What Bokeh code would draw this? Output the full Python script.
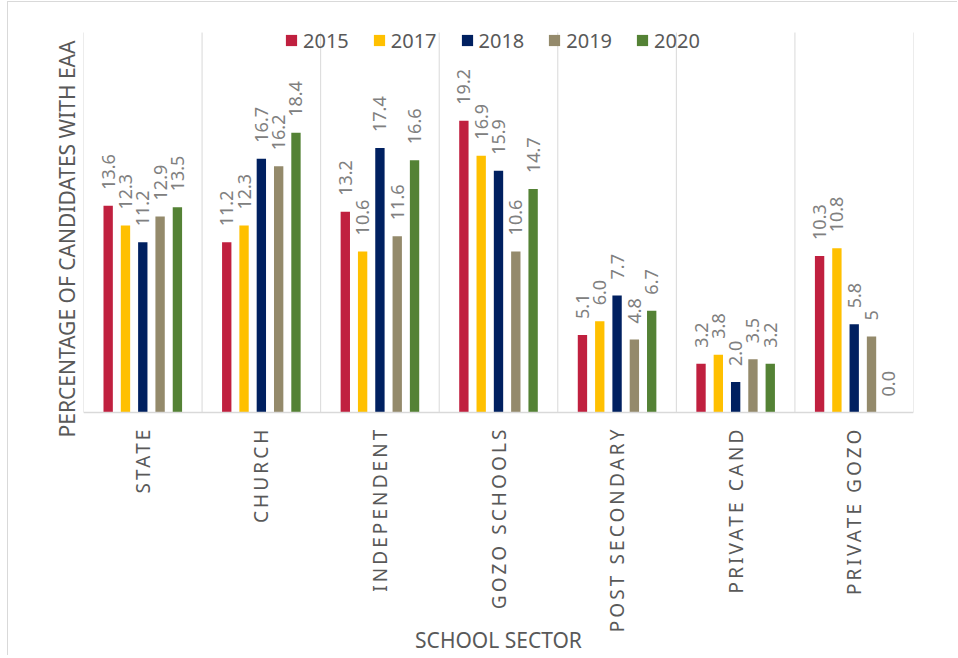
import math
from bokeh.plotting import figure
from bokeh.models import (FactorRange, Range1d, Legend, LegendItem, Span, ColumnDataSource,
                          CategoricalAxis, FixedTicker)
from bokeh.layouts import column
from bokeh.embed import file_html
from bokeh.resources import INLINE
from bokeh.core.properties import value

categories = ["STATE", "CHURCH", "INDEPENDENT", "GOZO SCHOOLS",
              "POST SECONDARY", "PRIVATE CAND", "PRIVATE GOZO"]
years = ["2015", "2017", "2018", "2019", "2020"]

v2015 = [13.6, 11.2, 13.2, 19.2, 5.1, 3.2, 10.3]
v2017 = [12.3, 12.3, 10.6, 16.9, 6.0, 3.8, 10.8]
v2018 = [11.2, 16.7, 17.4, 15.9, 7.7, 2.0, 5.8]
v2019 = [12.9, 16.2, 11.6, 10.6, 4.8, 3.5, 5.0]
v2020 = [13.5, 18.4, 16.6, 14.7, 6.7, 3.2, 0.0]

t2015 = ["13.6", "11.2", "13.2", "19.2", "5.1", "3.2", "10.3"]
t2017 = ["12.3", "12.3", "10.6", "16.9", "6.0", "3.8", "10.8"]
t2018 = ["11.2", "16.7", "17.4", "15.9", "7.7", "2.0", "5.8"]
t2019 = ["12.9", "16.2", "11.6", "10.6", "4.8", "3.5", "5"]
t2020 = ["13.5", "18.4", "16.6", "14.7", "6.7", "3.2", "0.0"]

colors = ["#C0203F", "#FFC000", "#002060", "#948A6B", "#548235"]

y_max = 25
x_title = "SCHOOL SECTOR"
y_title = "PERCENTAGE OF CANDIDATES WITH EAA"

FONT = "Noto Sans"
GP = 1.85

x_range = FactorRange(factors=[(c, y) for c in categories for y in years],
                      group_padding=GP, factor_padding=0,
                      range_padding=GP / 2, range_padding_units="absolute")

p = figure(width=950, height=654, x_range=x_range, y_range=Range1d(-2.83, 25.66),
           output_backend="svg", toolbar_location=None,
           x_axis_location=None, y_axis_location="left",
           min_border_left=75, min_border_right=45,
           min_border_top=20, min_border_bottom=201,
           outline_line_color=None, background_fill_color="white",
           border_fill_color="white", margin=(2, 0, 0, 8),
           styles={"box-shadow": "-1px -1px 0 0 #d9d9d9"})
p.title = None
p.grid.visible = False

# y axis: title only
p.yaxis.ticker = FixedTicker(ticks=[])
p.yaxis.axis_line_color = None
p.yaxis.major_tick_out = 0
p.yaxis.minor_tick_out = 0
p.yaxis.major_label_standoff = 0
p.yaxis.axis_label = y_title
p.yaxis.axis_label_standoff = 3
p.yaxis.axis_label_text_font = FONT
p.yaxis.axis_label_text_font_size = "21px"
p.yaxis.axis_label_text_font_style = "normal"
p.yaxis.axis_label_text_color = "#595959"

# x title on a blank helper axis
p.extra_x_ranges = {"title": FactorRange(factors=["t"])}
xt = CategoricalAxis(x_range_name="title", ticker=FixedTicker(ticks=[]),
                     axis_line_color=None, major_tick_out=0, minor_tick_out=0,
                     major_label_standoff=0, axis_label=x_title,
                     axis_label_standoff=170, axis_label_text_font=FONT,
                     axis_label_text_font_size="21px",
                     axis_label_text_font_style="normal",
                     axis_label_text_color="#595959")
p.add_layout(xt, "below")

# category separators
half = 0.5 + GP / 2
gx = [(c, years[0], -half) for c in categories] + [(categories[-1], years[-1], half)]
p.segment(x0=gx, y0=0, x1=gx, y1=y_max, line_color="#d9d9d9", line_width=1)
p.add_layout(Span(location=0, dimension="width", line_color="#d9d9d9", line_width=1.5))

series = [v2015, v2017, v2018, v2019, v2020]
texts = [t2015, t2017, t2018, t2019, t2020]
items = []
for yr, vals, labs, col in zip(years, series, texts, colors):
    src = ColumnDataSource(dict(x=[(c, yr) for c in categories], top=vals, lab=labs))
    r = p.vbar(x="x", top="top", bottom=0, width=0.54, source=src,
               fill_color=col, line_color=None)
    p.text(x="x", y="top", text="lab", source=src, angle=math.pi / 2,
           text_align="left", text_baseline="middle", y_offset=-16,
           text_font=value(FONT), text_font_size="18px", text_color="#808080")
    items.append(LegendItem(label=yr, renderers=[r]))

legend = Legend(items=items, orientation="horizontal", location=(201, 401),
                glyph_width=14, glyph_height=14, label_standoff=5, spacing=23,
                padding=0, margin=0, border_line_color=None,
                background_fill_color=None, label_text_font=FONT,
                label_text_font_size="20px", label_text_color="#595959",
                label_height=28)
p.add_layout(legend, "center")

# category labels (separate transparent layer so letter spacing can be inherited)
pa = figure(width=950, height=230, x_range=FactorRange(factors=categories, range_padding=0),
            y_range=Range1d(0, 1), output_backend="svg", toolbar_location=None,
            x_axis_location=None, y_axis_location=None,
            min_border_left=75, min_border_right=45, min_border_top=0, min_border_bottom=0,
            outline_line_color=None, background_fill_color=None, border_fill_color=None,
            margin=(-238, 0, 0, 8),
            styles={"letter-spacing": "3.1px", "direction": "rtl"})
pa.title = None
pa.grid.visible = False
pa.text(x=categories, y=1, text=categories, angle=math.pi / 2,
        text_align="left", text_baseline="middle", y_offset=8,
        text_font=value(FONT), text_font_size="19px", text_color="#595959")

layout = column(p, pa, spacing=0)
open("out.html", "w").write(file_html(layout, INLINE))
